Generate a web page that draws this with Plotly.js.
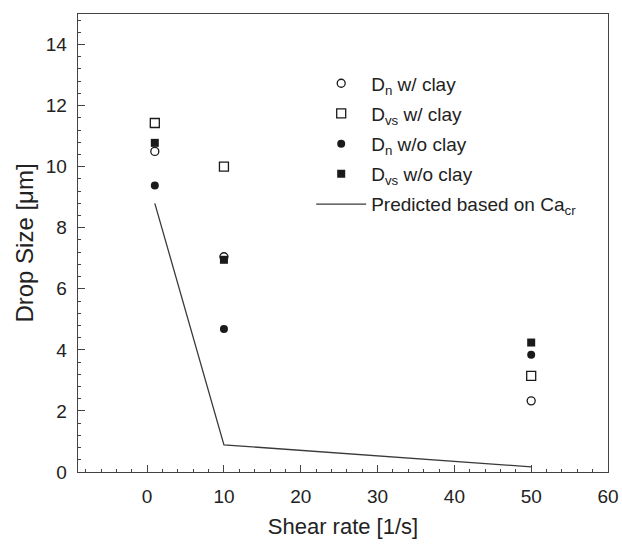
<!DOCTYPE html>
<html>
<head>
<meta charset="utf-8">
<script src="https://cdn.plot.ly/plotly-3.0.1.min.js"></script>
<style>html,body{margin:0;padding:0;background:#fff;}</style>
</head>
<body>
<div id="chart" style="width:622px;height:545px;"></div>
<script>
// Data
const shearRate = [1, 10, 50];
const dnWithClay = [10.5, 7.05, 2.33];
const dvsWithClay = [11.43, 10.0, 3.15];
const dnWithoutClay = [9.38, 4.68, 3.84];
const dvsWithoutClay = [10.78, 6.95, 4.24];
const predicted = [8.8, 0.89, 0.17];

const seriesNames = [
  'D<sub>n</sub> w/ clay',
  'D<sub>vs</sub> w/ clay',
  'D<sub>n</sub> w/o clay',
  'D<sub>vs</sub> w/o clay',
  'Predicted based on Ca<sub>cr</sub>'
];

const ink = '#1a1a1a';
const traces = [
  {x: shearRate, y: dnWithClay, name: seriesNames[0], legendgroup: 'g1', mode: 'markers', type: 'scatter',
   marker: {symbol: 'circle-open', size: 8, color: ink, line: {width: 1.3, color: ink}}},
  {x: shearRate, y: dvsWithClay, name: seriesNames[1], legendgroup: 'g2', mode: 'markers', type: 'scatter',
   marker: {symbol: 'square-open', size: 9, color: ink, line: {width: 1.3, color: ink}}},
  {x: shearRate, y: dnWithoutClay, name: seriesNames[2], legendgroup: 'g3', mode: 'markers', type: 'scatter',
   marker: {symbol: 'circle', size: 8, color: ink}},
  {x: shearRate, y: dvsWithoutClay, name: seriesNames[3], legendgroup: 'g4', mode: 'markers', type: 'scatter',
   marker: {symbol: 'square', size: 8, color: ink}},
  {x: shearRate, y: predicted, name: seriesNames[4], legendgroup: 'g5', mode: 'lines', type: 'scatter',
   line: {color: '#3a3a3a', width: 1.3}}
];

const fam = 'Liberation Sans, Arial, sans-serif';
const tickFont = {family: fam, size: 19, color: '#222'};
const layout = {
  width: 622, height: 545,
  margin: {l: 78, r: 14, t: 14, b: 73},
  paper_bgcolor: '#fff', plot_bgcolor: '#fff',
  showlegend: true,
  legend: {x: 0.44, y: 0.89, xanchor: 'left', yanchor: 'top',
           font: {family: fam, size: 19, color: '#222'},
           bgcolor: 'rgba(0,0,0,0)', traceorder: 'grouped', tracegroupgap: 2.5, itemwidth: 50},
  xaxis: {
    range: [-9, 60], tickvals: [0, 10, 20, 30, 40, 50, 60],
    ticks: 'inside', ticklen: 7, tickcolor: '#444', tickwidth: 1,
    showline: true, linecolor: '#444', linewidth: 1.3, mirror: true,
    showgrid: false, zeroline: false,
    tickfont: tickFont, ticklabelstandoff: 7,
    minor: {dtick: 2, tick0: 0, ticks: 'inside', ticklen: 3, tickcolor: '#444', showgrid: false},
    title: {text: 'Shear rate [1/s]', font: {family: fam, size: 22, color: '#222'}, standoff: 12}
  },
  yaxis: {
    range: [0, 15], tickvals: [0, 2, 4, 6, 8, 10, 12, 14],
    ticks: 'inside', ticklen: 7, tickcolor: '#444', tickwidth: 1,
    showline: true, linecolor: '#444', linewidth: 1.3, mirror: true,
    showgrid: false, zeroline: false,
    tickfont: tickFont, ticklabelstandoff: 6,
    minor: {dtick: 0.4, tick0: 0, ticks: 'inside', ticklen: 3, tickcolor: '#444', showgrid: false},
    title: {text: 'Drop Size [μm]', font: {family: fam, size: 24, color: '#222'}, standoff: 5}
  }
};

Plotly.newPlot('chart', traces, layout, {displayModeBar: false, staticPlot: true});
</script>
</body>
</html>
